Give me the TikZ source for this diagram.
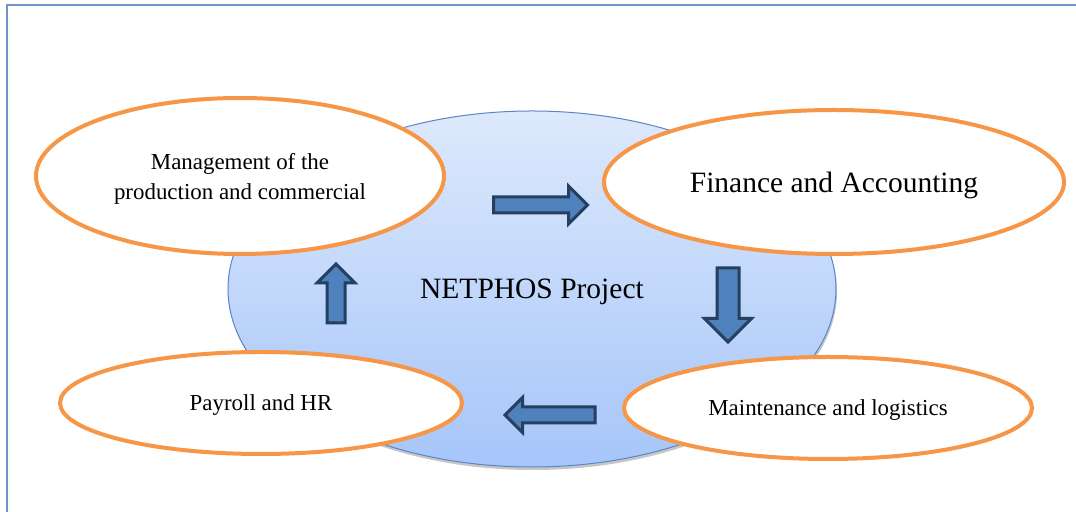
\documentclass[tikz,border=0pt]{standalone}
\usepackage{fontspec}
\setmainfont{Liberation Serif}
\usetikzlibrary{shapes.geometric,shapes.arrows,shadows}
\definecolor{framecol}{HTML}{6F95CC}
\definecolor{projtop}{HTML}{DDE9FC}
\definecolor{projbot}{HTML}{A6C5F9}
\definecolor{projline}{HTML}{5B86C4}
\definecolor{ringcol}{HTML}{F79646}
\definecolor{arrowfill}{HTML}{4F81BD}
\definecolor{arrowline}{HTML}{243F60}
\tikzset{
    module/.style={ellipse, draw=ringcol, line width=2bp, fill=white,
        inner sep=0pt, text depth=0pt, align=center, font=\fontsize{11.5}{15}\selectfont},
    flow/.style={single arrow, draw=arrowline, fill=arrowfill,
        line width=1.5bp, inner xsep=0pt, anchor=tail}
}
\begin{document}
\begin{tikzpicture}[x=0.5bp, y=-0.5bp]
            \useasboundingbox (0,0) rectangle (1076,512);
            \clip (0,0) rectangle (1076,512);
            \draw[framecol, line width=1.2bp] (7,5) rectangle (1090,530);

            % project core
            \node[ellipse, draw=projline, line width=0.5bp,
                top color=projtop, bottom color=projbot,
                drop shadow={shadow xshift=0.5bp, shadow yshift=-1.5bp, opacity=0.45, fill=gray},
                minimum width=304bp, minimum height=178bp, text depth=0pt,
                font=\fontsize{14.8}{17}\selectfont] (proj) at (532,289) {NETPHOS Project};

            % flow arrows
            \node[flow, minimum height=47bp, inner ysep=3.25bp, single arrow head extend=5.5bp]
                (toFin) at (492,205) {};
            \node[flow, rotate=-90, minimum height=37bp, inner ysep=4.75bp, single arrow head extend=6.25bp]
                (toMaint) at (728,266.5) {};
            \node[flow, rotate=180, minimum height=45bp, inner ysep=3.25bp, single arrow head extend=4.75bp]
                (toPay) at (596.5,415) {};
            \node[flow, rotate=90, minimum height=29.5bp, inner ysep=3.75bp, single arrow head extend=5bp]
                (toMgmt) at (336,324.5) {};

            % modules
            \node[module, minimum width=204bp, minimum height=78bp]
                (mgmt) at (240,176) {Management of the\\production and commercial};
            \node[module, minimum width=230bp, minimum height=72bp,
                font=\fontsize{14.8}{17}\selectfont] (fin) at (834,182) {Finance and Accounting};
            \node[module, minimum width=204bp, minimum height=51bp]
                (maint) at (828,408) {Maintenance and logistics};
            \node[module, minimum width=201bp, minimum height=51bp]
                (pay) at (261,403) {Payroll and HR};
        \end{tikzpicture}
\end{document}
